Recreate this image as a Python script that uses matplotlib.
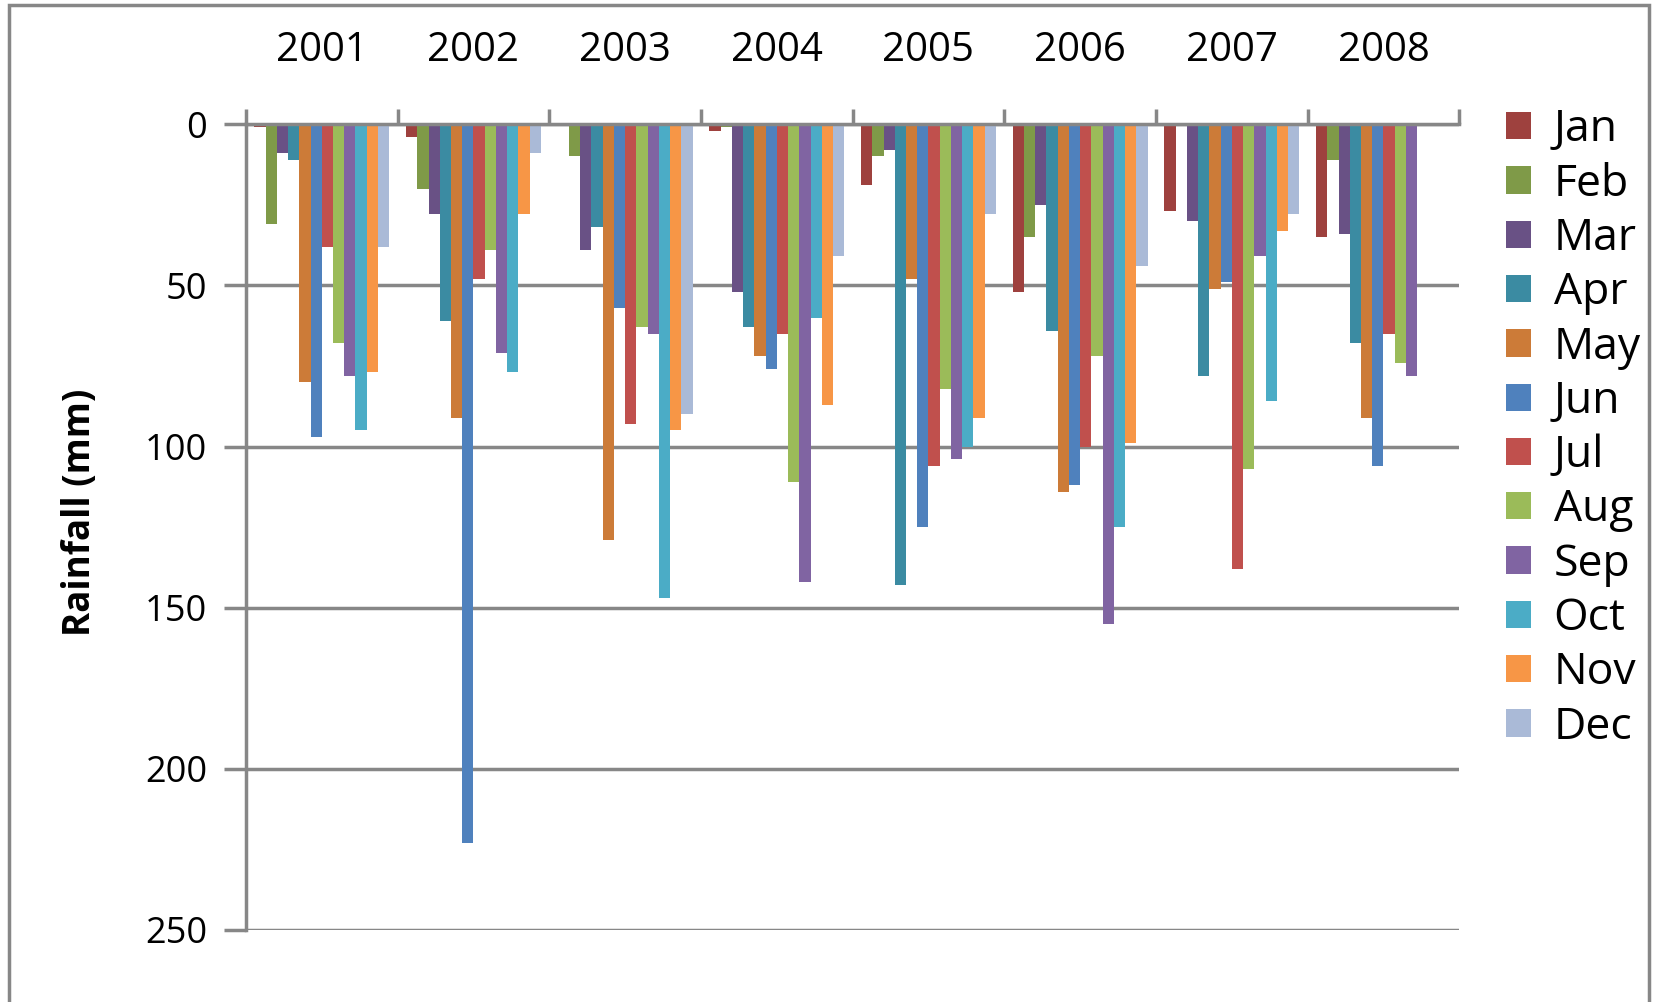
import numpy as np
import matplotlib
matplotlib.use("Agg")
import matplotlib.pyplot as plt
from matplotlib.patches import Rectangle

plt.rcParams['font.family'] = ['Open Sans', 'DejaVu Sans']

years = ["2001", "2002", "2003", "2004", "2005", "2006", "2007", "2008"]
months = ["Jan", "Feb", "Mar", "Apr", "May", "Jun",
          "Jul", "Aug", "Sep", "Oct", "Nov", "Dec"]

# Monthly rainfall (mm), one list per month, one value per year (nan = no record)
nan = np.nan
jan = [1, 4, 0, 2, 19, 52, 27, 35]
feb = [31, 20, 10, 1, 10, 35, 0, 11]
mar = [9, 28, 39, 52, 8, 25, 30, 34]
apr = [11, 61, 32, 63, 143, 64, 78, 68]
may = [80, 91, 129, 72, 48, 114, 51, 91]
jun = [97, 223, 57, 76, 125, 112, 49, 106]
jul = [38, 48, 93, 65, 106, 100, 138, 65]
aug = [68, 39, 63, 111, 82, 72, 107, 74]
sep = [78, 71, 65, 142, 104, 155, 41, 78]
octo = [95, 77, 147, 60, 100, 125, 86, nan]
nov = [77, 28, 95, 87, 91, 99, 33, nan]
dec = [38, 9, 90, 41, 28, 44, 28, nan]

series = [jan, feb, mar, apr, may, jun, jul, aug, sep, octo, nov, dec]
colors = ["#9E413E", "#7F9A48", "#695185", "#3B8BA2", "#CC7B38", "#4F81BD",
          "#C0504D", "#9BBB59", "#8064A2", "#4BACC6", "#F79646", "#AABAD7"]

grey = "#878787"

fig = plt.figure(figsize=(16.54, 10.02), dpi=100)
ax = fig.add_axes([0.1487, 0.0719, 0.7336, 0.8041])

n = len(months)
width = 1.0 / (n + 1.5)
x = np.arange(len(years))
for i, (vals, col, name) in enumerate(zip(series, colors, months)):
    ax.bar(x + (i - (n - 1) / 2) * width, vals, width=width, color=col,
           label=name, zorder=3, linewidth=0)

ax.set_xlim(-0.5, len(years) - 0.5)
ax.set_ylim(250, 0)
ax.set_yticks([0, 50, 100, 150, 200, 250])
ax.tick_params(axis='y', length=16, width=2.5, color=grey, labelsize=26, pad=12)

# category axis along the top, ticks at the group boundaries
ax.xaxis.tick_top()
ax.set_xticks(x)
ax.set_xticklabels(years)
ax.set_xticks(np.arange(-0.5, len(years)), minor=True)
ax.tick_params(axis='x', which='major', length=0, labelsize=29, pad=38)
ax.tick_params(axis='x', which='minor', length=11, width=2.5, color=grey)

ax.yaxis.grid(True, color=grey, linewidth=2.5, zorder=0)
for side in ("right", "bottom"):
    ax.spines[side].set_visible(False)
for side in ("left", "top"):
    ax.spines[side].set_color(grey)
    ax.spines[side].set_linewidth(2.5)
    ax.spines[side].set_zorder(4)

ax.set_ylabel("Rainfall (mm)", fontsize=26.5, fontweight='bold')
ax.yaxis.set_label_coords(-0.121, 0.518)

ax.legend(loc='upper left', bbox_to_anchor=(1506 / 1654, 1 - 108 / 1002),
          bbox_transform=fig.transFigure, frameon=False, fontsize=32,
          handlelength=0.57, handleheight=0.57, handletextpad=0.5,
          labelspacing=0.22, borderaxespad=0, borderpad=0)

# outer chart frame
fig.patches.append(Rectangle((9 / 1654, -0.05), (1649 - 9) / 1654, 1.05 - 5 / 1002,
                             transform=fig.transFigure, fill=False,
                             edgecolor=grey, linewidth=2.5))

fig.savefig("out.png", dpi=100)
